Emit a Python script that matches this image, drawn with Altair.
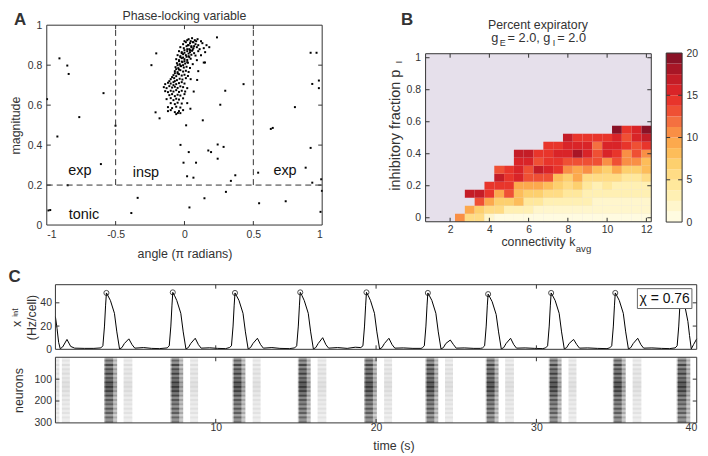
import altair as alt
import pandas as pd

FONT = "Liberation Sans"
INK = "#333333"
LBL = "'' + datum.value"

# ---------------- Panel A: phase-locking variable ----------------
cluster_x = [
    0.03, 0.055, 0.075, 0.095, 0.12,
    -0.01, 0.01, 0.025, 0.04, 0.06, 0.08, 0.10, 0.13, 0.16,
    -0.03, -0.005, 0.015, 0.035, 0.05, 0.065, 0.09, 0.11, 0.14, 0.18,
    -0.04, -0.02, 0.0, 0.02, 0.04, 0.055, 0.07, 0.10, 0.15,
    -0.05, -0.03, -0.01, 0.01, 0.03, 0.05, 0.08, 0.12,
    -0.06, -0.04, -0.02, 0.0, 0.02, 0.045, 0.09,
    -0.055, -0.035, -0.015, 0.005, 0.025, 0.06, 0.14,
    -0.065, -0.045, -0.025, -0.005, 0.015, 0.04,
    -0.07, -0.05, -0.03, -0.01, 0.01, 0.03, 0.10,
    -0.08, -0.06, -0.04, -0.02, 0.0, 0.025,
    -0.10, -0.075, -0.055, -0.035, -0.015, 0.01, 0.045,
    -0.14, -0.12, -0.10, -0.08, -0.06, -0.04, -0.02, 0.0,
    -0.15, -0.13, -0.11, -0.09, -0.07, -0.05, -0.03, -0.01, 0.02,
    -0.14, -0.12, -0.10, -0.08, -0.06, -0.04, -0.02, 0.005,
    -0.11, -0.09, -0.07, -0.05, -0.03, 0.0,
    -0.13, -0.10, -0.08, -0.06, -0.04, -0.01,
    -0.10, -0.07, -0.05, -0.02, 0.02,
    -0.12, -0.09, -0.06, -0.03,
    -0.12, -0.10, -0.07, -0.04, -0.01,
    -0.06, -0.03,
    0.0, 0.02, 0.045, 0.065, 0.085, 0.03, 0.05, 0.07, 0.02, 0.04, 0.06,
    -0.02, 0.0, 0.03, -0.03, -0.01, 0.015, 0.035, -0.04, -0.02, 0.0, 0.02,
    -0.05, -0.03, -0.01, -0.06, -0.04, -0.07, -0.05, -0.09, -0.07, -0.11, -0.08,
]
cluster_y = [
    0.93, 0.935, 0.925, 0.93, 0.92,
    0.905, 0.915, 0.90, 0.91, 0.915, 0.905, 0.90, 0.91, 0.90,
    0.89, 0.885, 0.895, 0.88, 0.89, 0.885, 0.89, 0.88, 0.885, 0.89,
    0.87, 0.865, 0.875, 0.87, 0.865, 0.872, 0.86, 0.87, 0.865,
    0.85, 0.845, 0.855, 0.85, 0.845, 0.852, 0.848, 0.85,
    0.83, 0.825, 0.835, 0.83, 0.826, 0.832, 0.825,
    0.81, 0.805, 0.815, 0.808, 0.812, 0.805, 0.813,
    0.79, 0.785, 0.795, 0.788, 0.792, 0.786,
    0.77, 0.765, 0.775, 0.768, 0.772, 0.766, 0.77,
    0.75, 0.745, 0.755, 0.748, 0.752, 0.746,
    0.73, 0.735, 0.725, 0.732, 0.728, 0.735, 0.73,
    0.705, 0.712, 0.708, 0.715, 0.705, 0.71, 0.715, 0.708,
    0.69, 0.685, 0.695, 0.688, 0.692, 0.686, 0.694, 0.69, 0.685,
    0.67, 0.665, 0.672, 0.668, 0.675, 0.666, 0.672, 0.668,
    0.65, 0.655, 0.645, 0.652, 0.648, 0.655,
    0.63, 0.635, 0.625, 0.632, 0.628, 0.634,
    0.61, 0.605, 0.612, 0.608, 0.61,
    0.59, 0.585, 0.592, 0.588,
    0.57, 0.575, 0.565, 0.57, 0.575,
    0.555, 0.56,
    0.92, 0.925, 0.92, 0.915, 0.92, 0.90, 0.895, 0.895, 0.88, 0.875, 0.878,
    0.86, 0.862, 0.858, 0.84, 0.838, 0.842, 0.84, 0.82, 0.818, 0.82, 0.815,
    0.80, 0.798, 0.80, 0.78, 0.778, 0.76, 0.758, 0.74, 0.72, 0.72, 0.70,
]
outlier_x = [
    -0.908, -0.851, -0.841, -0.998, -0.588, -0.764, -0.923, -0.607, -0.848, -0.988, -0.975, -0.501,
    -0.34, -0.386, -0.205, -0.24, -0.21, -0.181, 0.012, -0.029, -0.007, 0.031, 0.019, 0.065, 0.084,
    0.036, 0.145, 0.133, 0.173, 0.193, 0.241, 0.284, 0.241, 0.26, 0.296, 0.429, 0.337, 0.369, 0.301,
    0.236, 0.149, 0.092, 0.067, 0.043, -0.048,
    0.916, 0.959, 0.928, 0.976, 0.976, 0.802, 0.627, 0.641, 0.916, 0.88, 0.535, 0.928, 0.993, 0.998,
    0.542, 0.735, 0.988,
]
outlier_y = [
    0.834, 0.798, 0.756, 0.63, 0.66, 0.54, 0.443, 0.305, 0.199, 0.073, 0.075, 0.497,
    0.136, 0.06, 0.859, 0.80, 0.564, 0.534, 0.499, 0.401, 0.312, 0.365, 0.244, 0.237, 0.312,
    0.088, 0.134, 0.524, 0.373, 0.365, 0.403, 0.391, 0.332, 0.602, 0.672, 0.705, 0.221, 0.249, 0.166,
    0.939, 0.813, 0.726, 0.668, 0.582, 0.561,
    0.862, 0.862, 0.706, 0.723, 0.685, 0.59, 0.481, 0.486, 0.386, 0.287, 0.262, 0.212, 0.229, 0.171,
    0.109, 0.119, 0.066,
]
region_text = ["exp", "insp", "exp", "tonic"]
region_x = [-0.76, -0.28, 0.73, -0.73]
region_y = [0.27, 0.26, 0.27, 0.05]
split_x1 = [-0.5, 0.5, -1.0]
split_x2 = [-0.5, 0.5, 1.0]
split_y1 = [0.2, 0.2, 0.2]
split_y2 = [1.0, 1.0, 0.2]

# ---------------- Panel B: percent expiratory ----------------
k_cols = [2.5, 3.0, 3.5, 4.0, 4.5, 5.0, 5.5, 6.0, 6.5, 7.0,
          7.5, 8.0, 8.5, 9.0, 9.5, 10.0, 10.5, 11.0, 11.5, 12.0]
p_rows = [0.0, 0.05, 0.10, 0.15, 0.20, 0.25, 0.30, 0.35, 0.40, 0.45, 0.50, 0.55]
N = None
pct_rows = [
    [10, 5, 5, 1.5, 1, 1, 1, 1, 1, 1, 1, 1, 1, 1, 1, 1, 1, 1, 1, 1],
    [N, 9, 7, 6, 5, 3, 3, 2.5, 2, 2, 2, 1.5, 1.5, 1.5, 1.5, 1.5, 1.5, 1.5, 1.5, 1.5],
    [N, N, 13, 9, 7, 7, 8, 4, 4, 3.5, 3, 3, 2.5, 2.5, 2, 2, 2, 2, 2, 2],
    [N, 17, 17, 14, 9, 13, 8, 7, 7, 6, 5, 4, 4, 3, 3, 2.5, 3, 2.5, 2.5, 2.5],
    [N, N, N, 14, 14, 14, 9, 9, 9, 8, 7, 6, 7, 4, 3, 4, 3, 3, 3, 3],
    [N, N, N, N, 17, 14, 15, 13, 13, 13, 8, 7, 9, 6, 5, 5, 5, 4, 4, 5],
    [N, N, N, N, 13, 14, 15, 13, 17, 15, 14, 10, 9, 10, 8, 7, 9, 7, 7, 8],
    [N, N, N, N, N, N, 15, 15, 13, 14, 14, 13, 13, 13, 13, 11, 13, 10, 10, 8],
    [N, N, N, N, N, N, 17, 17, 14, 14, 15, 15, 18, 15, 13, 15, 14, 11, 13, 10],
    [N, N, N, N, N, N, N, N, N, 14, 14, 16, 16, 16, 12, 15, 15, 14, 13, 14],
    [N, N, N, N, N, N, N, N, N, N, N, 17, 14, 14, 14, 14, 16, 13, 15, 17],
    [N, N, N, N, N, N, N, N, N, N, N, N, N, N, N, N, 19, 14, 15, 19],
]
cbar_lo = [0, 1.25, 2.5, 3.75, 5, 6.25, 7.5, 8.75, 10, 11.25, 12.5, 13.75, 15, 16.25, 17.5, 18.75]
cbar_hi = [1.25, 2.5, 3.75, 5, 6.25, 7.5, 8.75, 10, 11.25, 12.5, 13.75, 15, 16.25, 17.5, 18.75, 20]
cbar_colors = ["#fffbe0", "#fff6cc", "#fff0b3", "#ffe89c", "#ffdc85", "#fdd06e", "#fdbd5a", "#fca94d",
               "#f98f45", "#f47040", "#ef5034", "#e8352b", "#d92428", "#c41d27", "#a81626", "#8a1226"]
NAN_BG = "#e6e0eb"

# ---------------- Panel C: network output ----------------
trace_t = [
    0.0, 0.1, 0.2, 0.3, 0.45, 0.72, 0.95, 1.2, 1.8, 2.4,
    2.83, 2.96, 3.06, 3.13, 3.18, 3.28, 3.43, 3.68, 3.83, 4.00, 4.15, 4.30, 4.58, 4.78, 4.95, 5.5, 6.0, 6.5,
    6.97, 7.10, 7.20, 7.27, 7.32, 7.42, 7.57, 7.82, 7.97, 8.14, 8.29, 8.44, 8.72, 8.92, 9.09, 9.62, 10.12, 10.62,
    10.85, 10.98, 11.08, 11.15, 11.20, 11.30, 11.45, 11.70, 11.85, 12.02, 12.17, 12.32, 12.60, 12.80, 12.97, 13.5, 14.0, 14.6,
    14.92, 15.05, 15.15, 15.22, 15.27, 15.37, 15.52, 15.77, 15.92, 16.09, 16.24, 16.39, 16.67, 16.87, 17.04, 17.6, 18.2, 18.7,
    19.05, 19.18, 19.28, 19.35, 19.40, 19.50, 19.65, 19.90, 20.05, 20.22, 20.37, 20.52, 20.80, 21.00, 21.17, 21.7, 22.3, 22.8,
    22.88, 23.01, 23.11, 23.18, 23.23, 23.33, 23.48, 23.73, 23.88, 24.05, 24.20, 24.35, 24.63, 24.83, 25.00, 25.5, 26.1, 26.5,
    26.64, 26.77, 26.87, 26.94, 26.99, 27.09, 27.24, 27.49, 27.64, 27.81, 27.96, 28.11, 28.39, 28.59, 28.76, 29.3, 29.9, 30.4,
    30.57, 30.70, 30.80, 30.87, 30.92, 31.02, 31.17, 31.42, 31.57, 31.74, 31.89, 32.04, 32.32, 32.52, 32.69, 33.2, 33.8, 34.4,
    34.57, 34.70, 34.80, 34.87, 34.92, 35.02, 35.17, 35.42, 35.57, 35.74, 35.89, 36.04, 36.32, 36.52, 36.69, 37.2, 37.8, 38.3,
    38.65, 38.78, 38.88, 38.95, 39.0, 39.1, 39.25, 39.45, 39.55, 39.66, 39.8, 40.0,
]
trace_v = [
    28, 18, 6, 0.5, 2, 8.5, 2.5, 1, 0.8, 0.8,
    1.2, 3, 20, 38, 48.5, 46, 42, 31, 15, 0.3, 1.5, 5, 9, 4, 1, 1.5, 0.8, 0.6,
    1.2, 3, 20, 38, 49, 46.5, 42, 31, 15, 0.3, 1.5, 5, 9.5, 4, 1, 1.3, 0.8, 0.6,
    1.5, 3, 20, 38, 48.5, 46, 42, 31, 15, 0.3, 1.5, 5, 9.5, 4, 1, 1.5, 0.8, 0.6,
    1.2, 3, 20, 38, 49, 46.5, 42, 31, 15, 0.3, 1.5, 5, 10, 4, 1, 1.5, 0.8, 1.8,
    1.5, 3, 20, 38, 49, 46.5, 42, 31, 15, 0.3, 1.5, 5, 9.5, 4, 1, 1.2, 0.8, 0.8,
    1.2, 3, 20, 38, 48.5, 46, 42, 31, 15, 0.3, 1.5, 5, 8, 4, 1, 1.2, 0.8, 0.8,
    1.2, 3, 20, 38, 47.5, 45, 41, 30, 15, 0.3, 1.5, 5, 9.5, 4, 1, 1.2, 0.8, 0.6,
    1.2, 3, 20, 38, 48.5, 46, 42, 31, 15, 0.3, 1.5, 5, 8.5, 4, 1, 1.2, 0.8, 0.6,
    1.2, 3, 20, 38, 48.5, 46, 42, 31, 15, 0.3, 1.5, 5, 9.5, 4, 1, 1.2, 0.8, 0.6,
    1.2, 3, 20, 38, 46, 44, 38, 24, 12, 0.3, 4, 9,
]
peak_t = [3.18, 7.32, 11.20, 15.27, 19.40, 23.23, 26.99, 30.92, 34.92]
peak_v = [48.5, 49, 48.5, 49, 49, 48.5, 47.5, 48.5, 48.5]
chi_box_t = [36.3, 39.7]
chi_box_v = [35.1, 52.2]
chi_text = "χ = 0.76"

burst_on = [3.03, 7.17, 11.05, 15.12, 19.25, 23.08, 26.84, 30.77, 34.77, 38.75]
burst_off = [3.85, 7.97, 11.85, 15.92, 20.05, 23.88, 27.64, 31.57, 35.57, 39.60]
core_on = [3.11, 7.25, 11.13, 15.20, 19.33, 23.16, 26.92, 30.85, 34.85, 38.83]
core_off = [3.60, 7.72, 11.60, 15.67, 19.80, 23.63, 27.39, 31.32, 35.32, 39.35]
post_on = [0.0, 0.40, 4.25, 8.40, 12.30, 16.35, 20.50, 24.30, 28.05, 32.00, 36.00]
post_off = [0.25, 0.90, 4.80, 8.90, 12.80, 16.90, 21.00, 24.80, 28.60, 32.50, 36.55]
row_weight = [0.35, 0.7, 0.45, 0.9, 0.5, 0.85, 0.6, 0.95, 0.55, 0.8, 0.65, 1.0, 0.75, 1.0, 0.7,
              0.95, 0.6, 0.9, 0.5, 0.8, 0.55, 0.75, 0.45, 0.8, 0.5, 0.75, 0.4, 0.7, 0.45, 0.6]


# ---------------- helpers ----------------
def lin(domain, reverse=False):
    return alt.Scale(domain=domain, nice=False, zero=False, reverse=reverse)


def label(text, x, y, size, weight="normal", align="center", angle=0, baseline="middle"):
    return alt.Chart(pd.DataFrame({"t": [text]})).mark_text(
        font=FONT, fontSize=size, fontWeight=weight, align=align, baseline=baseline,
        angle=angle, color=INK).encode(x=alt.value(x), y=alt.value(y), text="t:N")


def frame(xdom, ydom, sx, sy, ax, ay):
    return alt.Chart(pd.DataFrame({"x": [xdom[0]], "x2": [xdom[1]], "y": [ydom[0]], "y2": [ydom[1]]})).mark_rect(
        filled=False, stroke=INK, strokeWidth=1).encode(
        x=alt.X("x:Q", scale=sx, axis=ax), x2="x2:Q", y=alt.Y("y:Q", scale=sy, axis=ay), y2="y2:Q")


def inner_ticks(xs, ys, xdom, ydom, w, h, sx, sy, ax, ay, L=4):
    rows = []
    fx = L / w * (xdom[1] - xdom[0])
    fy = L / h * (ydom[1] - ydom[0])
    for v in xs:
        rows.append(dict(x=v, x2=v, y=ydom[0], y2=ydom[0] + fy))
        rows.append(dict(x=v, x2=v, y=ydom[1], y2=ydom[1] - fy))
    for v in ys:
        rows.append(dict(x=xdom[0], x2=xdom[0] + fx, y=v, y2=v))
        rows.append(dict(x=xdom[1], x2=xdom[1] - fx, y=v, y2=v))
    return alt.Chart(pd.DataFrame(rows)).mark_rule(color=INK, strokeWidth=1).encode(
        x=alt.X("x:Q", scale=sx, axis=ax), x2="x2:Q",
        y=alt.Y("y:Q", scale=sy, axis=ay), y2="y2:Q")


# ---------------- Panel A ----------------
A_W, A_H = 277, 201
dxA, dyA = [-1, 1], [0, 1]
sxA, syA = lin(dxA), lin(dyA)
axA_x = alt.Axis(values=[-1, -0.5, 0, 0.5, 1], labelExpr=LBL, title="angle (π radians)",
                 labelPadding=5, titlePadding=7)
axA_y = alt.Axis(values=[0, 0.2, 0.4, 0.6, 0.8, 1], labelExpr=LBL, title="magnitude",
                 labelPadding=5, titlePadding=5)
pts = pd.DataFrame({"x": cluster_x + outlier_x, "y": cluster_y + outlier_y})
a_pts = alt.Chart(pts).mark_square(size=4, color="black", opacity=1).encode(
    x=alt.X("x:Q", scale=sxA, axis=axA_x), y=alt.Y("y:Q", scale=syA, axis=axA_y))
a_split = alt.Chart(pd.DataFrame({"x": split_x1, "x2": split_x2, "y": split_y1, "y2": split_y2})).mark_rule(
    color=INK, strokeDash=[6, 4], strokeWidth=1).encode(
    x=alt.X("x:Q", scale=sxA, axis=axA_x), x2="x2:Q", y=alt.Y("y:Q", scale=syA, axis=axA_y), y2="y2:Q")
a_regions = alt.Chart(pd.DataFrame({"x": region_x, "y": region_y, "t": region_text})).mark_text(
    font=FONT, fontSize=14.5, color="#111").encode(
    x=alt.X("x:Q", scale=sxA, axis=axA_x), y=alt.Y("y:Q", scale=syA, axis=axA_y), text="t:N")
a_ticks = inner_ticks([-0.5, 0, 0.5], [0.2, 0.4, 0.6, 0.8], dxA, dyA, A_W, A_H, sxA, syA, axA_x, axA_y)
panelA = alt.layer(
    a_pts, a_split, a_regions, a_ticks, frame(dxA, dyA, sxA, syA, axA_x, axA_y),
    label("Phase-locking variable", A_W / 2, -9.5, 12.4),
    label("A", -26.8, -13.5, 17, weight="bold", baseline="top"),
).properties(width=A_W, height=A_H)

# ---------------- Panel B (plot area extended upward by EB px, frame drawn as a mark) ----------------
EB = 28.7
B_W, B_H = 227, 169
fxB, fyB = [0.75, 12.25], [-0.025, 1.025]
dyB = [fyB[0], fyB[1] + EB * (fyB[1] - fyB[0]) / B_H]
sxB, syB = lin(fxB), lin(dyB)
axB_x = alt.Axis(values=[2, 4, 6, 8, 10, 12], labelExpr=LBL, title=None, labelPadding=3)
axB_y = alt.Axis(values=[0, 0.2, 0.4, 0.6, 0.8, 1], labelExpr=LBL, title=None, labelPadding=5)
heat = []
for p, row in zip(p_rows, pct_rows):
    for k, v in zip(k_cols, row):
        if v is not None:
            heat.append(dict(k0=k - 0.25, k1=k + 0.25, p0=p - 0.025, p1=p + 0.025, v=v))
heat = pd.DataFrame(heat)
b_bg = alt.Chart(pd.DataFrame({"x": [fxB[0]], "x2": [fxB[1]], "y": [fyB[0]], "y2": [fyB[1]]})).mark_rect(
    color=NAN_BG).encode(x=alt.X("x:Q", scale=sxB, axis=axB_x), x2="x2:Q",
                         y=alt.Y("y:Q", scale=syB, axis=axB_y), y2="y2:Q")
b_heat = alt.Chart(heat).mark_rect().encode(
    x=alt.X("k0:Q", scale=sxB, axis=axB_x), x2="k1:Q",
    y=alt.Y("p0:Q", scale=syB, axis=axB_y), y2="p1:Q",
    color=alt.Color("v:Q", scale=alt.Scale(type="quantize", domain=[0, 20], range=cbar_colors, nice=False),
                    legend=None))
b_ticks = inner_ticks([2, 4, 6, 8, 10, 12], [0, 0.2, 0.4, 0.6, 0.8, 1], fxB, fyB, B_W, B_H, sxB, syB,
                      axB_x, axB_y)
panelB = alt.layer(
    b_bg, b_heat, b_ticks, frame(fxB, fyB, sxB, syB, axB_x, axB_y),
    label("B", -18.7, EB - 42.2, 17, weight="bold", baseline="top"),
    label("Percent expiratory", 113, EB - 28.7, 12.4),
    label("g", 66, EB - 16.2, 12.8, align="left"),
    label("E", 74.5, EB - 10.5, 9, align="left"),
    label("= 2.0, g", 82.5, EB - 16.2, 12.8, align="left"),
    label("I", 128, EB - 10.5, 9, align="left"),
    label("= 2.0", 132.5, EB - 16.2, 12.8, align="left"),
    label("inhibitory fraction p", -30, EB + 77, 14.5, angle=270),
    label("I", -26.5, EB + 8.5, 10, angle=270),
    label("connectivity k", 76.3, EB + 189.3, 12.4, align="left"),
    label("avg", 151, EB + 196.3, 9.7, align="left"),
).properties(width=B_W, height=B_H + EB)

CB_H = 170
ECB = EB - 0.7
cb = pd.DataFrame({"lo": cbar_lo, "hi": cbar_hi, "c": cbar_colors})
syCB = lin([0, 20 + ECB * 20 / CB_H])
axCB = alt.Axis(orient="right", values=[0, 5, 10, 15, 20], labelExpr=LBL, title=None, labelPadding=4)
cb_rects = alt.Chart(cb).mark_rect().encode(
    y=alt.Y("lo:Q", scale=syCB, axis=axCB), y2="hi:Q", color=alt.Color("c:N", scale=None))
cb_tk = pd.DataFrame({"y": [5, 10, 15]})
cb_left = alt.Chart(cb_tk).mark_rule(color=INK).encode(
    x=alt.value(0), x2=alt.value(4), y=alt.Y("y:Q", scale=syCB, axis=axCB))
cb_right = alt.Chart(cb_tk).mark_rule(color=INK).encode(
    x=alt.value(12), x2=alt.value(16), y=alt.Y("y:Q", scale=syCB, axis=axCB))
cb_frame = alt.Chart(pd.DataFrame({"y": [0], "y2": [20]})).mark_rect(
    filled=False, stroke=INK, strokeWidth=1).encode(
    y=alt.Y("y:Q", scale=syCB, axis=axCB), y2="y2:Q")
cbar = alt.layer(cb_rects, cb_left, cb_right, cb_frame).properties(width=16, height=CB_H + ECB)

# ---------------- Panel C (plot areas extended leftward by EC px) ----------------
EC = 8.7
C_W = 645
fxC = [0, 40]
dxC = [fxC[0] - EC * 40 / C_W, fxC[1]]
sxC = lin(dxC)
dy1 = [0, 55.6]
sy1 = lin(dy1)
axC1_y = alt.Axis(values=[0, 20, 40], labelExpr=LBL, title=["x  ⁱⁿᵗ", "(Hz/cell)"], titleLineHeight=15,
                  labelPadding=4, titlePadding=1, offset=-EC)
c1_line = alt.Chart(pd.DataFrame({"t": trace_t, "v": trace_v})).mark_line(color="black", strokeWidth=1).encode(
    x=alt.X("t:Q", scale=sxC, axis=None), y=alt.Y("v:Q", scale=sy1, axis=axC1_y))
c1_peaks = alt.Chart(pd.DataFrame({"t": peak_t, "v": peak_v})).mark_point(
    shape="circle", size=26, filled=False, color="black", strokeWidth=1).encode(
    x=alt.X("t:Q", scale=sxC, axis=None), y=alt.Y("v:Q", scale=sy1, axis=axC1_y))
c1_box = alt.Chart(pd.DataFrame({"t": [chi_box_t[0]], "t2": [chi_box_t[1]],
                                 "v": [chi_box_v[0]], "v2": [chi_box_v[1]]})).mark_rect(
    fill="white", stroke="#666666", strokeWidth=1).encode(
    x=alt.X("t:Q", scale=sxC, axis=None), x2="t2:Q", y=alt.Y("v:Q", scale=sy1, axis=axC1_y), y2="v2:Q")
c1_chi = alt.Chart(pd.DataFrame({"t": [(chi_box_t[0] + chi_box_t[1]) / 2],
                                 "v": [(chi_box_v[0] + chi_box_v[1]) / 2], "s": [chi_text]})).mark_text(
    font=FONT, fontSize=14, color="#111").encode(
    x=alt.X("t:Q", scale=sxC, axis=None), y=alt.Y("v:Q", scale=sy1, axis=axC1_y), text="s:N")
c1_ticks = inner_ticks([10, 20, 30], [20, 40], fxC, dy1, C_W, 65, sxC, sy1, None, axC1_y)
C1 = alt.layer(
    c1_line, c1_peaks, c1_box, c1_chi, c1_ticks, frame(fxC, dy1, sxC, sy1, None, axC1_y),
    label("C", EC - 41, -16, 17, weight="bold", baseline="top"),
).properties(width=C_W + EC, height=65)

ras = []
for g, w in enumerate(row_weight):
    n0, n1 = g * 10, g * 10 + 10
    for a, b in zip(burst_on, burst_off):
        ras.append(dict(t0=a, t1=b, n0=n0, n1=n1, a=0.45 * w))
    for a, b in zip(core_on, core_off):
        ras.append(dict(t0=a, t1=b, n0=n0, n1=n1, a=0.6 * w))
    for a, b in zip(post_on, post_off):
        ras.append(dict(t0=a, t1=b, n0=n0, n1=n1, a=0.15 * w))
ras = pd.DataFrame(ras)
dy2 = [0, 300]
sy2 = lin(dy2, reverse=True)
axC2_x = alt.Axis(values=[10, 20, 30, 40], labelExpr=LBL, title="time (s)", labelPadding=0, titlePadding=6,
                  titleX=340 + EC)
axC2_y = alt.Axis(values=[100, 200, 300], labelExpr=LBL, title="neurons", labelPadding=4, titlePadding=8.5,
                  offset=-EC)
c2_rect = alt.Chart(ras).mark_rect(color="black").encode(
    x=alt.X("t0:Q", scale=sxC, axis=axC2_x), x2="t1:Q",
    y=alt.Y("n0:Q", scale=sy2, axis=axC2_y), y2="n1:Q",
    opacity=alt.Opacity("a:Q", scale=None))
c2_ticks = inner_ticks([10, 20, 30], [100, 200], fxC, dy2, C_W, 66, sxC, sy2, axC2_x, axC2_y)
C2 = alt.layer(c2_rect, c2_ticks, frame(fxC, dy2, sxC, sy2, axC2_x, axC2_y)).properties(
    width=C_W + EC, height=66)

top = alt.hconcat(panelA, alt.hconcat(panelB, cbar, spacing=12), spacing=63)
bottom = alt.vconcat(C1, C2, spacing=1)
chart = alt.vconcat(top, bottom, spacing=6).properties(
    padding=0, background="white"
).configure_view(stroke="transparent").configure_axis(
    labelFont=FONT, titleFont=FONT, labelFontSize=10.5, titleFontSize=12.5,
    labelColor=INK, titleColor=INK, titleFontWeight="normal",
    ticks=False, domain=False, grid=False)

chart.save("out.html", embed_options={"renderer": "svg", "actions": False})
